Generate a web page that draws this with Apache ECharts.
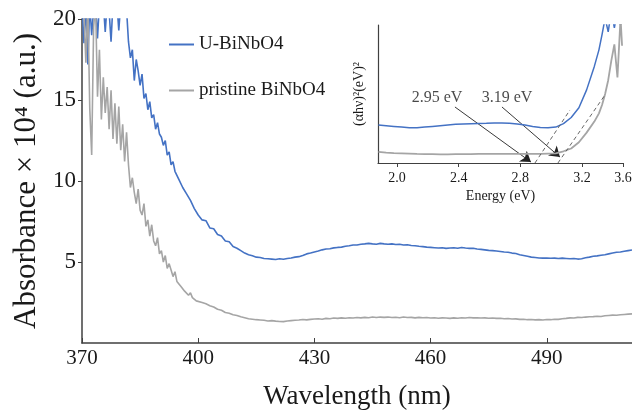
<!DOCTYPE html>
<html>
<head>
<meta charset="utf-8">
<script src="https://cdn.jsdelivr.net/npm/echarts@6/dist/echarts.min.js"></script>
<style>html,body{margin:0;padding:0;background:#fff}#c{width:632px;height:411px}</style>
</head>
<body>
<div id="c"></div>
<script>
// ---------- Main chart data ----------
var wavelength = [
370,370.5,371,371.5,372,372.5,373,373.5,374,374.5,375,375.5,376,376.5,377,377.5,378,378.5,379,379.5,
380,380.5,381,381.5,382,382.5,383,383.5,384,384.5,385,385.5,386,386.5,387,387.5,388,388.5,389,389.5,
390,390.5,391,391.5,392,392.5,393,393.5,394,394.5,395,395.5,396,396.5,397,397.5,398,398.5,399,399.5,400,
401,402,403,404,405,406,407,408,409,410,
411,412,413,414,415,416,417,418,419,420,
421,422,423,424,425,426,427,428,429,430,
431,432,433,434,435,436,437,438,439,440,
441,442,443,444,445,446,447,448,449,450,
451,452,453,454,455,456,457,458,459,460,
461,462,463,464,465,466,467,468,469,470,
471,472,473,474,475,476,477,478,479,480,
481,482,483,484,485,486,487,488,489,490,
491,492,493,494,495,496,497,498,499,500,
501,502,503,504,505,506,507,508,509,510,
511,512];
var uBiNbO4 = [
21,18.5,20.8,17.2,21,19.0,20.6,21,18.8,21,20.3,21,19.2,21,20.5,18.6,21,20.4,21,19.3,
21,20.2,21,20.6,18.6,17.6,18.1,16.2,17.5,16.8,15.9,16.6,15.1,15.4,14.4,14.9,13.9,14.1,13.2,13.6,
12.9,12.7,12.2,12.5,11.6,11.8,11.0,11.2,10.6,10.5,10.1,10.2,9.6,9.7,9.2,9.1,8.8,8.7,8.3,8.3,7.9,
7.6,7.55,7.1,7.05,6.7,6.6,6.3,6.25,5.95,5.85,
5.7,5.55,5.45,5.38,5.3,5.28,5.22,5.2,5.18,5.15,
5.2,5.17,5.22,5.25,5.3,5.33,5.4,5.5,5.55,5.62,
5.68,5.75,5.8,5.82,5.87,5.9,5.92,5.97,6.0,6.05,
6.05,6.1,6.12,6.15,6.12,6.1,6.15,6.12,6.1,6.12,
6.08,6.1,6.05,6.06,6.02,6.0,5.97,5.95,5.92,5.9,
5.88,5.86,5.88,5.84,5.86,5.88,5.85,5.9,5.86,5.84,
5.85,5.8,5.78,5.75,5.72,5.7,5.68,5.65,5.62,5.6,
5.55,5.52,5.45,5.4,5.35,5.3,5.28,5.25,5.24,5.25,
5.23,5.24,5.22,5.24,5.22,5.2,5.22,5.18,5.2,5.26,
5.3,5.35,5.38,5.42,5.45,5.5,5.55,5.6,5.62,5.66,
5.7,5.74];
var pristineBiNbO4 = [
21,20.5,17.3,21,14.5,11.6,19.5,21,15.2,18.1,13.8,16.4,14.2,15.8,13.2,15.6,12.6,14.8,12.3,14.6,
11.9,13.5,11.2,13.0,11.0,9.6,10.2,9.3,8.6,9.5,8.2,7.9,8.6,7.2,7.6,6.6,7.3,6.3,6.0,6.5,
5.5,5.7,5.0,5.4,4.6,4.9,4.5,4.1,4.4,3.8,3.9,3.5,3.6,3.2,3.3,2.95,3.1,2.8,2.8,2.6,2.65,
2.5,2.42,2.3,2.22,2.08,2.02,1.88,1.84,1.74,1.7,
1.62,1.56,1.5,1.47,1.44,1.42,1.4,1.36,1.38,1.35,
1.33,1.32,1.36,1.38,1.4,1.42,1.45,1.43,1.46,1.48,
1.5,1.47,1.52,1.5,1.54,1.52,1.55,1.53,1.56,1.54,
1.57,1.55,1.58,1.56,1.6,1.57,1.6,1.58,1.6,1.57,
1.59,1.56,1.6,1.57,1.58,1.55,1.58,1.56,1.57,1.54,
1.56,1.53,1.55,1.54,1.52,1.55,1.53,1.56,1.54,1.57,
1.55,1.56,1.54,1.55,1.53,1.54,1.52,1.53,1.5,1.51,
1.48,1.49,1.46,1.47,1.44,1.45,1.43,1.44,1.42,1.45,
1.44,1.47,1.46,1.5,1.52,1.55,1.54,1.58,1.57,1.6,
1.62,1.63,1.65,1.64,1.68,1.7,1.72,1.71,1.74,1.76,
1.78,1.8];
var seriesNames = ['U-BiNbO4', 'pristine BiNbO4'];
var xTickValues = [370, 400, 430, 460, 490];
var yTickLabels = ['5', '10', '15', '20'];

// ---------- Inset (Tauc plot) data ----------
var energy = [1.88,1.93,1.98,2.03,2.08,2.13,2.18,2.23,2.28,2.33,2.38,2.43,2.48,2.53,2.58,2.63,2.68,2.73,2.78,2.83,
2.88,2.93,2.98,3.03,3.08,3.13,3.18,3.23,3.28,3.31,3.33,3.35,3.37,3.39,3.41,3.43,3.45,3.46];
var insetU = [0.275,0.27,0.265,0.26,0.255,0.255,0.26,0.265,0.27,0.275,0.28,0.283,0.285,0.287,0.288,0.29,0.29,0.288,0.283,0.275,
0.265,0.257,0.255,0.26,0.285,0.33,0.40,0.53,0.70,0.82,0.93,1.05,0.95,1.1,0.98,1.1,1.0,1.1];
var insetP = [0.08,0.075,0.072,0.07,0.068,0.066,0.065,0.064,0.063,0.063,0.064,0.064,0.065,0.066,0.066,0.066,0.066,0.066,0.066,0.066,
0.066,0.066,0.068,0.07,0.085,0.105,0.15,0.22,0.30,0.36,0.42,0.5,0.6,0.74,0.86,0.62,1.05,0.85];
var insetTickValues = [2.0, 2.4, 2.8, 3.2, 3.466];
var insetTickLabels = ['2.0', '2.4', '2.8', '3.2', '3.6'];
var tangent1 = [[2.895, 0], [3.122, 0.384]];
var tangent2 = [[3.044, 0], [3.349, 0.493]];
var arrow1 = [[2.376, 0.406], [2.869, 0.007]];
var arrow2 = [[2.681, 0.406], [3.057, 0.043]];
var gapLabels = ['2.95 eV', '3.19 eV'];
var gapLabelAt = [[2.26, 0.471], [2.714, 0.471]];

function zip(a, b) { return a.map(function (v, i) { return [v, b[i]]; }); }

var FONT = "'Liberation Serif', 'Times New Roman', serif";
var AX = '#404040';
var TXT = '#1a1a1a';
var BLUE = '#4472C4';
var GRAY = '#A5A5A5';

var chart = echarts.init(document.getElementById('c'), null, {renderer: 'canvas'});
chart.setOption({
  animation: false,
  backgroundColor: '#fff',
  textStyle: {fontFamily: FONT},
  legend: {
    data: seriesNames,
    orient: 'vertical',
    left: 164, top: 30,
    itemWidth: 25, itemHeight: 2, itemGap: 27,
    icon: 'rect',
    textStyle: {fontFamily: FONT, fontSize: 19, color: TXT}
  },
  grid: [
    {left: 82, top: 19, right: 0, bottom: 68, outerBoundsMode: 'none', containLabel: false},
    {left: 378, top: 25, width: 245, height: 138, outerBoundsMode: 'none', containLabel: false}
  ],
  xAxis: [
    {
      type: 'value', gridIndex: 0, min: 370, max: 512,
      name: 'Wavelength (nm)', nameLocation: 'middle', nameGap: 40,
      nameTextStyle: {fontFamily: FONT, fontSize: 27, color: TXT},
      axisLine: {lineStyle: {color: AX, width: 1.5}},
      axisTick: {show: true, inside: true, length: 5, customValues: xTickValues, lineStyle: {color: AX}},
      axisLabel: {customValues: xTickValues, fontFamily: FONT, fontSize: 21, color: TXT, margin: 5},
      splitLine: {show: false}
    },
    {
      type: 'value', gridIndex: 1, min: 1.877, max: 3.466,
      name: 'Energy (eV)', nameLocation: 'middle', nameGap: 26,
      nameTextStyle: {fontFamily: FONT, fontSize: 14, color: TXT},
      axisLine: {lineStyle: {color: AX, width: 1.2}},
      axisTick: {show: true, length: 4, customValues: insetTickValues, lineStyle: {color: AX}},
      axisLabel: {
        customValues: insetTickValues, fontFamily: FONT, fontSize: 14, color: TXT, margin: 8,
        formatter: function (v) {
          var best = 0, d = 1e9;
          insetTickValues.forEach(function (t, i) { if (Math.abs(t - v) < d) { d = Math.abs(t - v); best = i; } });
          return insetTickLabels[best];
        }
      },
      splitLine: {show: false}
    }
  ],
  yAxis: [
    {
      type: 'value', gridIndex: 0, min: 0, max: 20, interval: 5,
      name: 'Absorbance × 10⁴ (a.u.)', nameLocation: 'middle', nameGap: 35,
      nameTextStyle: {fontFamily: FONT, fontSize: 31, color: TXT},
      axisLine: {show: true, lineStyle: {color: AX, width: 1.5}},
      axisTick: {show: true, length: 4, lineStyle: {color: AX}},
      axisLabel: {
        showMinLabel: false, fontFamily: FONT, fontSize: 23, color: TXT, margin: 6,
        formatter: function (v) { var s = String(v); return yTickLabels.indexOf(s) >= 0 ? s : ''; }
      },
      splitLine: {show: false}
    },
    {
      type: 'value', gridIndex: 1, min: 0, max: 1,
      name: '(αhν)²(eV)²', nameLocation: 'middle', nameGap: 12,
      nameTextStyle: {fontFamily: FONT, fontSize: 14, color: TXT},
      axisLine: {show: true, lineStyle: {color: AX, width: 1.2}},
      axisTick: {show: false}, axisLabel: {show: false},
      splitLine: {show: false}
    }
  ],
  series: [
    {name: seriesNames[0], type: 'line', xAxisIndex: 0, yAxisIndex: 0, data: zip(wavelength, uBiNbO4),
      showSymbol: false, symbol: 'none', lineStyle: {color: BLUE, width: 1.6}, itemStyle: {color: BLUE}},
    {name: seriesNames[1], type: 'line', xAxisIndex: 0, yAxisIndex: 0, data: zip(wavelength, pristineBiNbO4),
      showSymbol: false, symbol: 'none', lineStyle: {color: GRAY, width: 1.6}, itemStyle: {color: GRAY}},
    {type: 'line', xAxisIndex: 1, yAxisIndex: 1, data: zip(energy, insetU),
      showSymbol: false, symbol: 'none', lineStyle: {color: BLUE, width: 1.5}},
    {type: 'line', xAxisIndex: 1, yAxisIndex: 1, data: zip(energy, insetP),
      showSymbol: false, symbol: 'none', lineStyle: {color: GRAY, width: 1.8}},
    {type: 'line', xAxisIndex: 1, yAxisIndex: 1, data: tangent1,
      showSymbol: false, symbol: 'none', lineStyle: {color: '#555', width: 0.9, type: [4, 3]}},
    {type: 'line', xAxisIndex: 1, yAxisIndex: 1, data: tangent2,
      showSymbol: false, symbol: 'none', lineStyle: {color: '#555', width: 0.9, type: [4, 3]}},
    {type: 'lines', coordinateSystem: 'cartesian2d', xAxisIndex: 1, yAxisIndex: 1,
      symbol: ['none', 'arrow'], symbolSize: [1, 10],
      lineStyle: {color: '#222', width: 0.9, opacity: 1},
      data: [{coords: arrow1}, {coords: arrow2}]},
    {type: 'scatter', xAxisIndex: 1, yAxisIndex: 1, symbolSize: 0,
      data: gapLabelAt.map(function (p, i) { return {value: p, name: gapLabels[i]}; }),
      label: {show: true, position: 'inside', formatter: '{b}', fontFamily: FONT, fontSize: 16, color: TXT}}
  ]
});
</script>
</body>
</html>
